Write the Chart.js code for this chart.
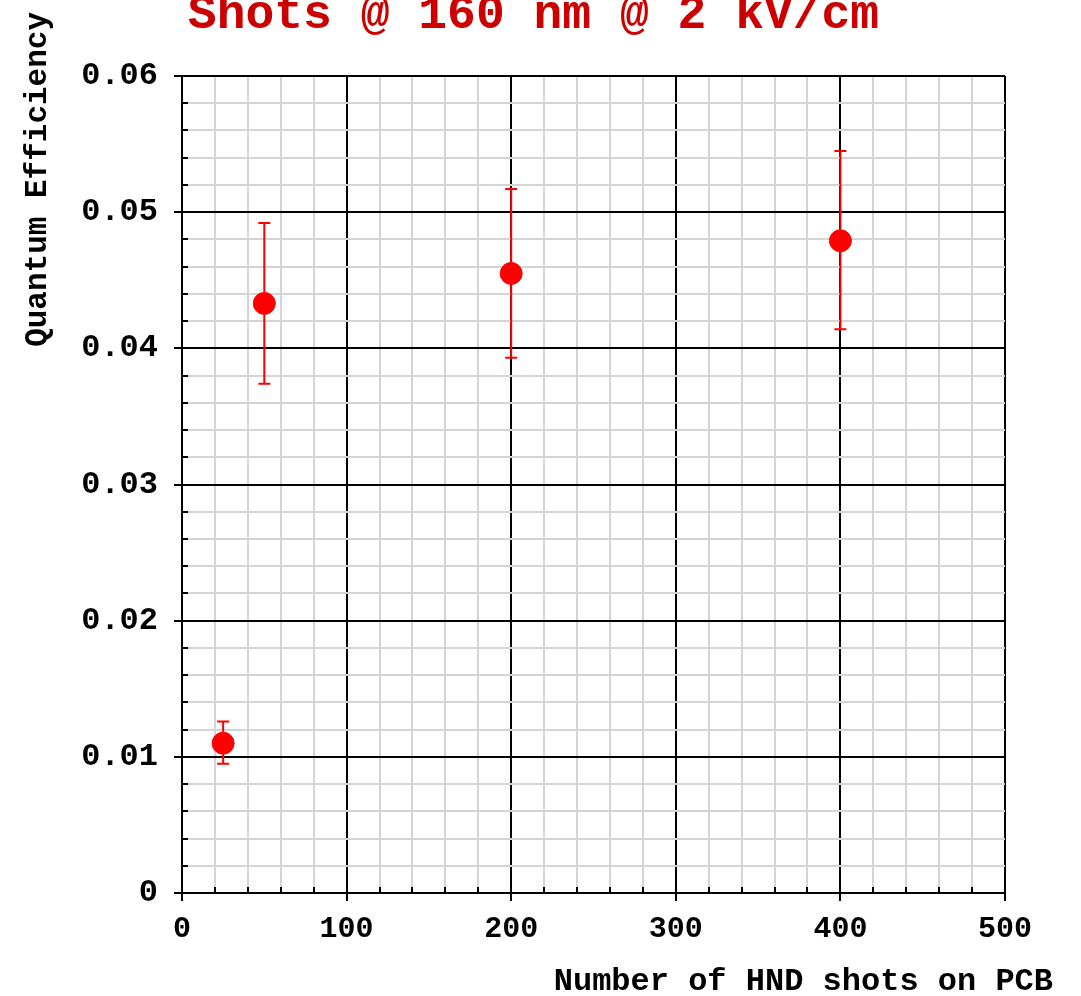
<!DOCTYPE html>
<html>
<head>
<meta charset="utf-8">
<script src="https://cdn.jsdelivr.net/npm/chart.js@4/dist/chart.umd.min.js"></script>
<style>
  html, body { margin: 0; padding: 0; background: #fff; }
  #wrap { width: 1081px; height: 996px; }
</style>
</head>
<body>
<div id="wrap"><canvas id="c" width="1081" height="996"></canvas></div>
<script>
// ---------- Data ----------
const shots = [25, 50, 200, 400];
const qe = [0.0110, 0.0433, 0.0455, 0.0479];
const qeLow = [0.0095, 0.0374, 0.0393, 0.0414];
const qeHigh = [0.0126, 0.0492, 0.0517, 0.0545];

const titleText = 'Shots @ 160 nm @ 2 kV/cm';
const xTitle = 'Number of HND shots on PCB';
const yTitle = 'Quantum Efficiency';

const FONT = '"Courier New", "Liberation Mono", monospace';

const isMajorX = v => Math.abs(v / 100 - Math.round(v / 100)) < 1e-6;
const isMajorY = v => Math.abs(v * 100 - Math.round(v * 100)) < 1e-6;

// ---------- Plugins ----------
const errorBars = {
  id: 'errorBars',
  beforeDatasetsDraw(chart) {
    const { ctx, scales: { x, y } } = chart;
    ctx.save();
    ctx.strokeStyle = '#ff0000';
    ctx.lineWidth = 2;
    shots.forEach((s, i) => {
      const px = x.getPixelForValue(s);
      const top = y.getPixelForValue(qeHigh[i]);
      const bot = y.getPixelForValue(qeLow[i]);
      ctx.beginPath();
      ctx.moveTo(px, top); ctx.lineTo(px, bot);
      ctx.moveTo(px - 6, top); ctx.lineTo(px + 6, top);
      ctx.moveTo(px - 6, bot); ctx.lineTo(px + 6, bot);
      ctx.stroke();
    });
    ctx.restore();
  }
};

// minor ticks pointing into the plot, plus the text around the frame
const decorations = {
  id: 'decorations',
  afterDraw(chart) {
    const { ctx, chartArea: a, scales: { x, y } } = chart;
    ctx.save();
    ctx.strokeStyle = '#000';
    ctx.lineWidth = 2;
    ctx.beginPath();
    x.ticks.forEach(t => {
      if (isMajorX(t.value)) return;
      const px = Math.round(x.getPixelForValue(t.value));
      ctx.moveTo(px, a.bottom); ctx.lineTo(px, a.bottom - 6);
    });
    y.ticks.forEach(t => {
      if (isMajorY(t.value)) return;
      const py = Math.round(y.getPixelForValue(t.value));
      ctx.moveTo(a.left, py); ctx.lineTo(a.left + 6, py);
    });
    ctx.stroke();

    // title
    ctx.fillStyle = '#cc0000';
    ctx.font = 'bold 48px ' + FONT;
    ctx.textAlign = 'center';
    ctx.textBaseline = 'alphabetic';
    ctx.fillText(titleText, (a.left + a.right) / 2 - 60, 28);

    // axis titles
    ctx.fillStyle = '#000';
    ctx.font = 'bold 32px ' + FONT;
    ctx.textAlign = 'right';
    ctx.fillText(xTitle, a.right + 48, 990);

    ctx.font = 'bold 31px ' + FONT;
    ctx.translate(46, 12);
    ctx.rotate(-Math.PI / 2);
    ctx.textAlign = 'right';
    ctx.fillText(yTitle, 0, 0);
    ctx.restore();
  }
};

// ---------- Chart ----------
new Chart(document.getElementById('c'), {
  type: 'scatter',
  data: {
    datasets: [{
      data: shots.map((s, i) => ({ x: s, y: qe[i] })),
      backgroundColor: '#ff0000',
      borderColor: '#ff0000',
      pointRadius: 11,
      pointHoverRadius: 11
    }]
  },
  options: {
    responsive: false,
    animation: false,
    layout: { padding: { top: 76, right: 76, left: 0, bottom: 0 } },
    plugins: { legend: { display: false }, title: { display: false }, tooltip: { enabled: false } },
    scales: {
      x: {
        type: 'linear', min: 0, max: 500,
        afterFit: s => { s.height = 103; },
        afterBuildTicks: s => {
          s.ticks = [];
          for (let v = 0; v <= 500; v += 20) s.ticks.push({ value: v });
        },
        border: { color: '#000', width: 2 },
        grid: {
          color: c => isMajorX(c.tick.value) ? '#000' : '#d4d4d4',
          lineWidth: 2,
          tickLength: 8,
          tickColor: c => isMajorX(c.tick.value) ? '#000' : 'rgba(0,0,0,0)'
        },
        ticks: {
          autoSkip: false, maxRotation: 0,
          padding: 10,
          color: '#000',
          font: { family: FONT, size: 30, weight: 'bold' },
          callback: v => isMajorX(v) ? String(Math.round(v)) : ''
        }
      },
      y: {
        type: 'linear', min: 0, max: 0.06,
        afterFit: s => { s.width = 182; },
        afterBuildTicks: s => {
          s.ticks = [];
          for (let i = 0; i <= 30; i++) s.ticks.push({ value: i * 0.002 });
        },
        border: { color: '#000', width: 2 },
        grid: {
          color: c => isMajorY(c.tick.value) ? '#000' : '#d4d4d4',
          lineWidth: 2,
          tickLength: 8,
          tickColor: c => isMajorY(c.tick.value) ? '#000' : 'rgba(0,0,0,0)'
        },
        ticks: {
          autoSkip: false,
          padding: 16,
          color: '#000',
          font: { family: FONT, size: 32, weight: 'bold' },
          callback: v => isMajorY(v) ? (Math.round(v * 100) === 0 ? '0' : v.toFixed(2)) : ''
        }
      }
    }
  },
  plugins: [errorBars, decorations]
});
</script>
</body>
</html>
